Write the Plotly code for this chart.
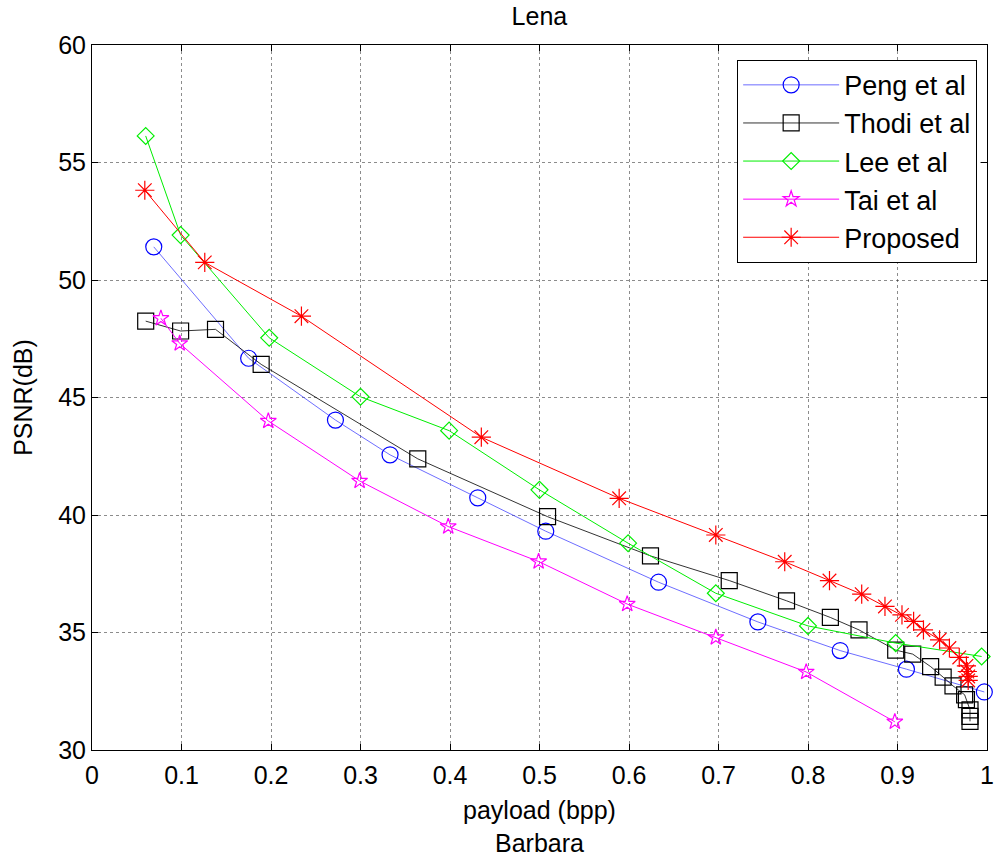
import plotly.graph_objects as go

# PSNR versus embedding payload for the compared schemes
peng_x = [0.069, 0.175, 0.272, 0.333, 0.431, 0.507, 0.633, 0.744, 0.836, 0.910, 0.997]
peng_y = [51.41, 46.67, 44.04, 42.56, 40.73, 39.31, 37.14, 35.45, 34.23, 33.44, 32.47]

thodi_x = [0.060, 0.099, 0.138, 0.189, 0.364, 0.509, 0.624, 0.712, 0.776, 0.825, 0.857,
           0.898, 0.917, 0.937, 0.951, 0.962, 0.975, 0.977, 0.981, 0.981, 0.981]
thodi_y = [48.25, 47.83, 47.90, 46.41, 42.39, 39.93, 38.26, 37.21, 36.35, 35.64, 35.11,
           34.25, 34.08, 33.55, 33.10, 32.73, 32.35, 32.14, 31.71, 31.43, 31.22]

lee_x = [0.060, 0.099, 0.198, 0.300, 0.399, 0.500, 0.599, 0.697, 0.800, 0.898, 0.994]
lee_y = [56.13, 51.91, 47.54, 45.03, 43.59, 41.07, 38.80, 36.67, 35.28, 34.55, 33.98]

tai_x = [0.077, 0.098, 0.197, 0.299, 0.398, 0.499, 0.598, 0.697, 0.798, 0.897]
tai_y = [48.37, 47.30, 44.00, 41.45, 39.51, 38.02, 36.21, 34.79, 33.32, 31.20]

prop_x = [0.059, 0.126, 0.234, 0.435, 0.589, 0.697, 0.774, 0.824, 0.860, 0.886, 0.905,
          0.918, 0.929, 0.947, 0.958, 0.969, 0.977, 0.978, 0.979, 0.979]
prop_y = [53.82, 50.75, 48.46, 43.31, 40.71, 39.15, 38.01, 37.21, 36.63, 36.11, 35.75,
          35.47, 35.11, 34.69, 34.34, 33.94, 33.58, 33.34, 33.13, 32.96]

series = [
    ("Peng et al", peng_x, peng_y, "#0000ff", "rgba(60,60,255,0.75)", "circle-open", 16),
    ("Thodi et al", thodi_x, thodi_y, "#000000", "rgba(0,0,0,0.8)", "square-open", 16),
    ("Lee et al", lee_x, lee_y, "#00ee00", "#00ee00", "diamond-open", 13),
    ("Tai et al", tai_x, tai_y, "#ff00ff", "#ff00ff", "star-open", 12),
    ("Proposed", prop_x, prop_y, "#ff0000", "#ff0000", "asterisk-open", 16),
]

FONT = "Liberation Sans, Arial, sans-serif"
TXT = 25

fig = go.Figure()
for i, (name, xs, ys, mcol, lcol, sym, size) in enumerate(series):
    fig.add_trace(go.Scatter(
        x=xs, y=ys, name=name, mode="lines+markers",
        legendgroup=str(i),
        line=dict(color=lcol, width=1),
        marker=dict(symbol=sym, size=size, color=mcol, line=dict(color=mcol, width=1.2)),
        cliponaxis=False,
    ))

axis_common = dict(
    showline=True, linecolor="black", linewidth=1, mirror="ticks",
    ticks="inside", ticklen=6, tickcolor="black", automargin=False,
    showgrid=True, gridcolor="rgba(0,0,0,0.45)", gridwidth=1, griddash="dot",
    zeroline=False, tickfont=dict(size=TXT, color="black", family=FONT),
)

fig.update_xaxes(range=[0, 1], dtick=0.1, tick0=0, ticklabelstandoff=3,
                 title=dict(text="payload (bpp)<br>Barbara", font=dict(size=TXT, family=FONT, color="black"),
                            standoff=13),
                 **axis_common)
fig.update_yaxes(range=[30, 60], dtick=5, tick0=30,
                 title=dict(text="PSNR(dB)", font=dict(size=TXT, family=FONT, color="black"), standoff=18),
                 **axis_common)

fig.update_layout(
    width=996, height=859,
    margin=dict(l=92, r=9, t=45, b=109),
    paper_bgcolor="white", plot_bgcolor="white",
    font=dict(family=FONT, color="black"),
    title=dict(text="Lena", x=0.5416, xanchor="center", y=1 - 16 / 859, yanchor="middle",
               font=dict(size=TXT, family=FONT, color="black")),
    legend=dict(
        x=0.989, y=0.979, xanchor="right", yanchor="top",
        bgcolor="white", bordercolor="black", borderwidth=1,
        font=dict(size=27, family=FONT, color="black"),
        itemwidth=96, tracegroupgap=0, traceorder="grouped",
    ),
    showlegend=True,
)

fig.write_html("out.html")
